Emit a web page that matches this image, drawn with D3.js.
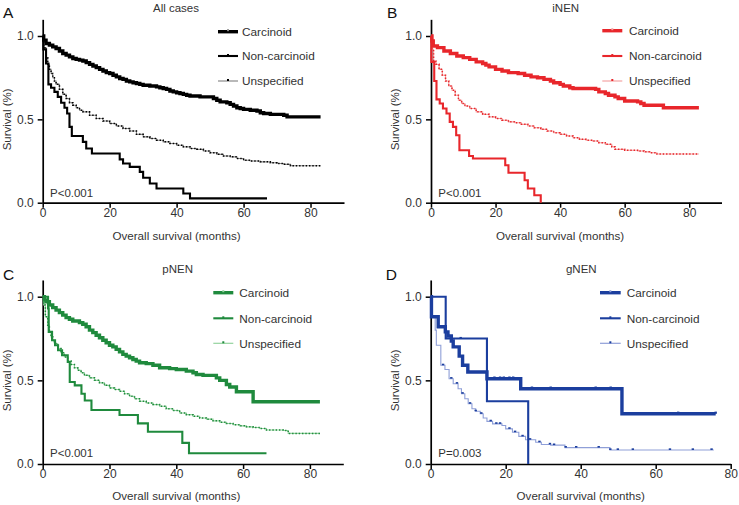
<!DOCTYPE html>
<html><head><meta charset="utf-8">
<script src="https://cdn.jsdelivr.net/npm/d3@7"></script>
<style>
body{margin:0;background:#fff}
svg{display:block}
text{font-family:"Liberation Sans",Arial,Helvetica,sans-serif}
</style>
</head><body>
<svg id="chart" width="739" height="505"></svg>
<script>
// ---------------- DATA ----------------
const groups = ["Carcinoid", "Non-carcinoid", "Unspecified"];
const panelLetters = ["A", "B", "C", "D"];
const panelTitles = ["All cases", "iNEN", "pNEN", "gNEN"];
const pValues = ["P<0.001", "P<0.001", "P<0.001", "P=0.003"];
const xTicks = [0, 20, 40, 60, 80];
const yTicks = [0, 0.5, 1.0];
const xAxisLabel = "Overall survival (months)";
const yAxisLabel = "Survival (%)";

// [month, survival] – survival drops to value at that month (Kaplan–Meier steps)
const allCarcinoid = [[0,1],[0.3,0.975],[1,0.955],[2,0.945],[3,0.935],[4,0.925],[5,0.91],[6,0.895],[7,0.885],[8,0.875],[9,0.865],[10,0.86],[11,0.855],[12,0.85],[13,0.84],[14,0.83],[15,0.82],[16,0.81],[17,0.8],[18,0.79],[19,0.78],[20,0.775],[21,0.765],[22,0.755],[23,0.745],[24,0.74],[25,0.73],[26,0.725],[27,0.72],[28,0.715],[29,0.71],[30,0.705],[32,0.7],[34,0.695],[35,0.69],[36,0.685],[37,0.68],[38,0.67],[39,0.665],[40,0.66],[41,0.655],[42,0.65],[43,0.645],[44,0.64],[47,0.635],[50,0.635],[51,0.625],[52,0.615],[53,0.605],[55,0.6],[56,0.59],[57,0.58],[58,0.57],[59,0.565],[60,0.56],[62,0.555],[64,0.55],[65,0.54],[66,0.535],[68,0.53],[72,0.525],[73,0.515],[83,0.515]];
const allNonCarcinoid = [[0,1],[0.2,0.92],[1,0.835],[1.7,0.71],[2.5,0.69],[3.5,0.665],[4.5,0.635],[5.5,0.6],[6.5,0.57],[7.3,0.535],[8,0.455],[8.7,0.4],[12,0.365],[13,0.325],[14.7,0.295],[23,0.26],[24,0.235],[26,0.215],[29,0.185],[30,0.15],[32,0.115],[34,0.085],[42,0.055],[44,0.026],[67,0.026]];
const allUnspecified = [[0,1],[0.3,0.93],[1,0.87],[1.5,0.83],[2,0.8],[2.5,0.775],[3,0.75],[3.5,0.73],[4,0.71],[5,0.68],[6,0.65],[7,0.625],[8,0.6],[9,0.585],[10,0.57],[11,0.555],[12,0.545],[14,0.525],[16,0.505],[18,0.49],[20,0.475],[22,0.46],[24,0.445],[26,0.43],[28,0.41],[30,0.395],[32,0.385],[34,0.375],[36,0.365],[38,0.355],[40,0.345],[42,0.335],[44,0.325],[46,0.32],[48,0.31],[50,0.3],[52,0.29],[54,0.28],[56,0.275],[58,0.265],[60,0.255],[62,0.25],[65,0.245],[68,0.24],[70,0.235],[72,0.23],[74,0.222],[83,0.222]];

const iCarcinoid = [[0,1],[0.3,0.97],[0.7,0.94],[2,0.93],[4,0.91],[6,0.895],[8,0.88],[10,0.87],[12,0.86],[14,0.845],[16,0.835],[17,0.825],[18,0.815],[20,0.8],[22,0.79],[24,0.78],[27,0.775],[29,0.765],[31,0.755],[33,0.75],[35,0.74],[37,0.73],[38,0.72],[40,0.71],[41,0.7],[43,0.69],[44,0.685],[51,0.68],[52,0.665],[54,0.655],[55,0.645],[57,0.635],[58,0.625],[60,0.61],[64,0.605],[65,0.595],[66,0.585],[72,0.57],[83,0.57]];
const iNonCarcinoid = [[0,1],[0.1,0.845],[1,0.73],[1.7,0.62],[2.7,0.595],[3.7,0.565],[4.8,0.535],[5.8,0.485],[6.8,0.455],[7.8,0.405],[8.8,0.315],[11.8,0.28],[13,0.265],[23,0.225],[24,0.18],[29,0.135],[30,0.085],[32,0.045],[34,0]];
const iUnspecified = [[0,1],[0.3,0.92],[0.8,0.85],[1.5,0.83],[2.5,0.8],[3.5,0.765],[4.5,0.73],[5.5,0.7],[6.5,0.675],[7.5,0.645],[8.5,0.615],[9.5,0.595],[10.5,0.58],[12,0.565],[14,0.545],[16,0.53],[18,0.515],[20,0.505],[22,0.495],[24,0.485],[26,0.48],[28,0.47],[30,0.46],[32,0.45],[34,0.44],[36,0.43],[38,0.42],[40,0.41],[42,0.4],[44,0.39],[46,0.38],[48,0.375],[50,0.37],[52,0.36],[54,0.35],[56,0.335],[57,0.32],[60,0.315],[64,0.31],[66,0.305],[68,0.3],[70,0.292],[83,0.292]];

const pCarcinoid = [[0,1],[0.5,0.98],[1,0.97],[2,0.95],[3,0.935],[4,0.92],[5,0.905],[6,0.89],[7,0.875],[8,0.865],[9,0.855],[11,0.845],[12,0.835],[13,0.82],[14,0.8],[15,0.785],[16,0.77],[17,0.755],[18,0.74],[19,0.725],[20,0.71],[21,0.7],[22,0.685],[23,0.67],[24,0.655],[25,0.645],[26,0.635],[27,0.625],[28,0.615],[29,0.605],[31,0.6],[33,0.59],[35,0.575],[38,0.57],[40,0.565],[43,0.555],[45,0.545],[46,0.535],[48,0.53],[52,0.515],[53,0.5],[55,0.475],[56,0.46],[58,0.432],[63,0.372],[83,0.372]];
const pNonCarcinoid = [[0,1],[1.6,0.93],[1.8,0.79],[2.8,0.74],[3.7,0.71],[4.6,0.68],[5.8,0.65],[7.5,0.61],[8.1,0.49],[9.6,0.47],[11.6,0.42],[12.6,0.38],[14.6,0.323],[23,0.293],[28.5,0.243],[31.5,0.193],[41.8,0.126],[43.8,0.064],[67,0.064]];
const pUnspecified = [[0,1],[0.3,0.95],[0.8,0.88],[1.5,0.83],[2,0.79],[2.5,0.76],[3,0.74],[3.5,0.72],[4.5,0.69],[5.5,0.665],[6.5,0.64],[7.5,0.615],[8.5,0.595],[9.5,0.575],[10.5,0.56],[11.5,0.545],[12.5,0.53],[14,0.515],[15.5,0.5],[17,0.485],[18.5,0.47],[20,0.455],[21.5,0.445],[23,0.435],[24.5,0.42],[26,0.405],[27.5,0.39],[29,0.375],[31,0.365],[33,0.355],[35,0.345],[37,0.33],[39,0.32],[41,0.305],[43,0.295],[45,0.285],[47,0.275],[49,0.268],[51,0.258],[53,0.25],[55,0.242],[57,0.235],[59,0.228],[61,0.222],[63,0.218],[65,0.212],[67,0.203],[72,0.2],[73.5,0.183],[83,0.183]];

const gCarcinoid = [[0,1],[0.2,0.88],[2,0.82],[3.9,0.79],[4.6,0.765],[5.5,0.735],[6,0.7],[7.6,0.645],[8.5,0.59],[9.9,0.55],[15,0.51],[24,0.45],[51,0.3],[76,0.3]];
const gNonCarcinoid = [[0,1],[4,0.75],[15,0.375],[26,0],[26,0]];
const gUnspecified = [[0,1],[0.3,0.88],[1.2,0.8],[1.5,0.71],[2.7,0.59],[3.8,0.565],[4.9,0.51],[6,0.48],[7.3,0.45],[8.2,0.42],[9.1,0.39],[10,0.36],[11,0.33],[12,0.315],[13.2,0.3],[14,0.275],[15,0.255],[16.5,0.24],[19,0.23],[20,0.21],[21.8,0.19],[23.5,0.165],[25.3,0.145],[28,0.13],[29.5,0.117],[32,0.113],[35.8,0.098],[47.8,0.084],[75.5,0.084]];
// censor marks (months) for gNEN
const gCarcinoidCensor = [17, 18.5, 19.5, 21, 22, 27, 32, 44, 48, 66, 76];
const gNonCarcinoidCensor = [8];
const gUnspecifiedCensor = [3.3, 5.5, 7, 8.5, 10.5, 12, 13.5, 16, 17.5, 18.5, 21, 22.5, 24.5, 26.5, 29, 31.8, 32.9, 36, 38.8, 44.8, 47.9, 49.9, 53.9, 63.8, 69.9, 74.9];

// ---------------- LAYOUT / STYLE ----------------
const panelColors = [
  {main: "#000000", light: "#8a8a8a"},
  {main: "#e8262b", light: "#f3a3a3"},
  {main: "#1f8a3d", light: "#93d39e"},
  {main: "#1b3e9e", light: "#8f9fd8"}
];
const layouts = [
  {left: 42.7, right: 344,   xMax: 90, bottom: 202.7, one: 36,    titleX: 176,   letterX: 3,     letterY: 18.3,  legLine: [218, 238],   legText: 242,   legY: [31.7, 56, 81],       pX: 50,    pY: 197.3, xlabY: 239.5},
  {left: 431,  right: 721.5, xMax: 90, bottom: 202.7, one: 36,    titleX: 565.7, letterX: 387,   letterY: 18.3,  legLine: [602.3, 622.3], legText: 629, legY: [30.7, 56, 81],       pX: 438.3, pY: 197.3, xlabY: 239.5},
  {left: 42.7, right: 343.3, xMax: 90, bottom: 464,   one: 296.7, titleX: 177.7, letterX: 3,     letterY: 280,   legLine: [213.3, 233.3], legText: 239.3, legY: [292.7, 318.3, 343.3], pX: 50,  pY: 457.3, xlabY: 499.5},
  {left: 430.7,right: 730.7, xMax: 80, bottom: 464,   one: 296.7, titleX: 581.3, letterX: 385.7, letterY: 280,   legLine: [600, 620.7], legText: 626.7, legY: [292.7, 318.3, 343.3], pX: 438.3, pY: 457.3, xlabY: 499.5}
];
const panelSeries = [
  [allCarcinoid, allNonCarcinoid, allUnspecified],
  [iCarcinoid, iNonCarcinoid, iUnspecified],
  [pCarcinoid, pNonCarcinoid, pUnspecified],
  [gCarcinoid, gNonCarcinoid, gUnspecified]
];
const panelCensors = [null, null, null, [gCarcinoidCensor, gNonCarcinoidCensor, gUnspecifiedCensor]];
const widths = [3.4, 2.1, 1.1];
const FONT = "Liberation Sans, Arial, sans-serif";

const svg = d3.select("#chart");

function survAt(series, t) {
  let s = series[0][1];
  for (const p of series) { if (p[0] <= t) s = p[1]; else break; }
  return s;
}

panelSeries.forEach((seriesList, i) => {
  const L = layouts[i], C = panelColors[i];
  const x = d3.scaleLinear().domain([0, L.xMax]).range([L.left, L.right]);
  const unit = L.bottom - L.one;
  const y = d3.scaleLinear().domain([0, 1.1]).range([L.bottom, L.bottom - 1.1 * unit]);
  const g = svg.append("g");

  // axes
  const xa = g.append("g").attr("transform", `translate(0,${L.bottom})`)
    .call(d3.axisBottom(x).tickValues(xTicks).tickSize(5).tickSizeOuter(0).tickFormat(d3.format("d")));
  xa.selectAll("text").attr("y", 14).attr("dy", 0).attr("font-size", 12).attr("fill", "#333").attr("font-family", FONT);
  const ya = g.append("g").attr("transform", `translate(${L.left},0)`)
    .call(d3.axisLeft(y).tickValues(yTicks).tickSize(5).tickSizeOuter(0).tickPadding(4).tickFormat(d3.format(".1f")));
  ya.selectAll("text").attr("font-size", 12).attr("fill", "#333").attr("font-family", FONT);
  [xa, ya].forEach(a => {
    a.select(".domain").attr("stroke", "#000").attr("stroke-width", 1.7);
    a.selectAll(".tick line").attr("stroke", "#000").attr("stroke-width", 1.5);
  });

  // curves (draw unspecified first, then non-carcinoid, then carcinoid)
  const line = d3.line().x(d => x(d[0])).y(d => y(d[1])).curve(d3.curveStepAfter);
  [2, 1, 0].forEach(k => {
    const data = seriesList[k];
    if (k === 2) {
      g.append("path").datum(data).attr("d", line).attr("fill", "none")
        .attr("stroke", C.light).attr("stroke-width", 1.1);
      if (!panelCensors[i]) {
        g.append("path").datum(data).attr("d", line).attr("fill", "none")
          .attr("stroke", C.main).attr("stroke-width", 1.5).attr("stroke-dasharray", "1.4 1.9");
      }
    } else {
      g.append("path").datum(data).attr("d", line).attr("fill", "none")
        .attr("stroke", C.main).attr("stroke-width", widths[k]).attr("stroke-linejoin", "miter");
    }
    if (panelCensors[i]) {
      g.selectAll(null).data(panelCensors[i][k]).enter().append("rect")
        .attr("x", t => x(t) - 1.2).attr("y", t => y(survAt(data, t)) - (k === 0 ? 2.2 : 1.6))
        .attr("width", 2.4).attr("height", k === 0 ? 2.2 : 1.6)
        .attr("fill", C.main);
    }
  });

  // legend
  groups.forEach((name, k) => {
    const ly = L.legY[k];
    g.append("line").attr("x1", L.legLine[0]).attr("x2", L.legLine[1]).attr("y1", ly).attr("y2", ly)
      .attr("stroke", k === 2 ? C.light : C.main).attr("stroke-width", k === 2 ? 1.2 : widths[k]);
    g.append("rect").attr("x", (L.legLine[0] + L.legLine[1]) / 2 - 1).attr("y", ly - (k === 0 ? 2.5 : 2))
      .attr("width", 2).attr("height", 2).attr("fill", k === 0 ? C.light : C.main);
    g.append("text").attr("x", L.legText).attr("y", ly + 4.3).attr("font-size", 11.8).attr("fill", "#333")
      .text(name);
  });

  // texts
  g.append("text").attr("x", L.titleX).attr("y", L.letterY - 6.8).attr("text-anchor", "middle")
    .attr("font-size", 11.5).attr("fill", "#333").text(panelTitles[i]);
  g.append("text").attr("x", L.letterX).attr("y", L.letterY).attr("font-size", 15.5).attr("fill", "#111")
    .text(panelLetters[i]);
  g.append("text").attr("x", L.pX).attr("y", L.pY).attr("font-size", 11.5).attr("fill", "#333").text(pValues[i]);
  g.append("text").attr("x", x(40)).attr("y", L.xlabY).attr("text-anchor", "middle")
    .attr("font-size", 11.6).attr("fill", "#333").text(xAxisLabel);
  g.append("text").attr("transform", `translate(${L.left - 32},${y(0.5)}) rotate(-90)`)
    .attr("text-anchor", "middle").attr("font-size", 11.5).attr("fill", "#333").text(yAxisLabel);
});
</script>
</body></html>
